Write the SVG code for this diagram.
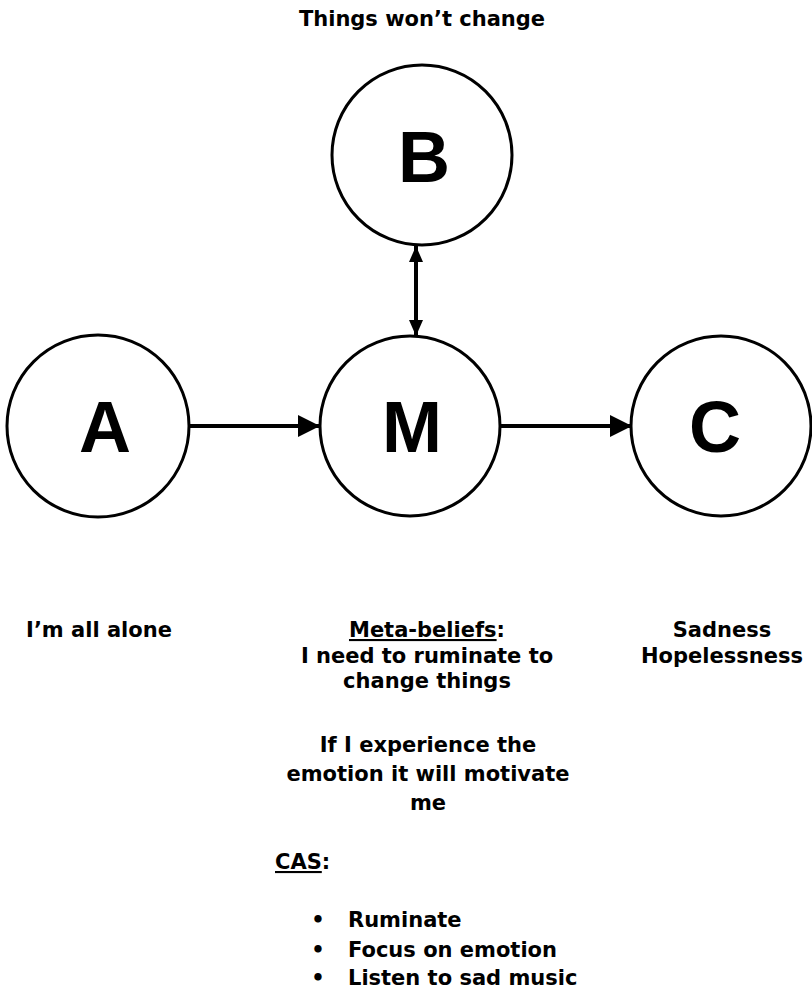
<svg xmlns="http://www.w3.org/2000/svg" width="812" height="989" viewBox="0 0 812 989">
  <style>
    .node { fill: #ffffff; stroke: #000000; stroke-width: 3; }
    .letter { font-family: "Liberation Sans", Arial, sans-serif; font-weight: bold; font-size: 72px; fill: #000000; text-anchor: middle; }
    .label { font-family: "DejaVu Sans", Verdana, sans-serif; font-weight: bold; font-size: 21px; fill: #000000; }
    .mid { text-anchor: middle; }
    .ul { text-decoration: underline; }
    .edge { stroke: #000000; stroke-width: 4; fill: none; }
  </style>
  <defs>
    <marker id="head" markerUnits="userSpaceOnUse" markerWidth="22" markerHeight="22" viewBox="0 0 22 22" refX="22" refY="11" orient="auto">
      <path d="M0,0 L22,11 L0,22 Z" fill="#000000"/>
    </marker>
    <marker id="headSmall" markerUnits="userSpaceOnUse" markerWidth="16" markerHeight="14" viewBox="0 0 16 14" refX="16" refY="7" orient="auto-start-reverse">
      <path d="M0,0 L16,7 L0,14 Z" fill="#000000"/>
    </marker>
  </defs>

  <rect width="812" height="989" fill="#ffffff"/>

  <!-- connectors -->
  <g id="connectors">
    <line class="edge" x1="189" y1="426" x2="320" y2="426" marker-end="url(#head)"/>
    <line class="edge" x1="500" y1="426" x2="632" y2="426" marker-end="url(#head)"/>
    <line class="edge" x1="416" y1="246" x2="416" y2="336" marker-start="url(#headSmall)" marker-end="url(#headSmall)"/>
  </g>

  <!-- B: belief -->
  <g id="node-b">
    <text class="label mid" x="422" y="26" font-size="20">Things won’t change</text>
    <circle class="node" cx="422" cy="155" r="90"/>
    <text class="letter" x="424" y="182">B</text>
  </g>

  <!-- A: activating event -->
  <g id="node-a">
    <circle class="node" cx="98" cy="426" r="91"/>
    <text class="letter" x="105" y="452">A</text>
    <text class="label mid" x="99" y="637">I’m all alone</text>
  </g>

  <!-- M: metacognition -->
  <g id="node-m">
    <circle class="node" cx="410" cy="426" r="90"/>
    <text class="letter" x="412" y="452">M</text>
    <text class="label mid" x="427" y="637"><tspan class="ul">Meta-beliefs</tspan>:</text>
    <text class="label mid" x="427" y="663">I need to ruminate to</text>
    <text class="label mid" x="427" y="688">change things</text>
    <text class="label mid" x="428" y="752">If I experience the</text>
    <text class="label mid" x="428" y="781">emotion it will motivate</text>
    <text class="label mid" x="428" y="810">me</text>
    <text class="label" x="275" y="869"><tspan class="ul">CAS</tspan>:</text>
    <text class="label mid" x="318" y="927">•</text>
    <text class="label" x="348" y="927">Ruminate</text>
    <text class="label mid" x="318" y="957">•</text>
    <text class="label" x="348" y="957">Focus on emotion</text>
    <text class="label mid" x="318" y="985">•</text>
    <text class="label" x="348" y="985">Listen to sad music</text>
  </g>

  <!-- C: consequence -->
  <g id="node-c">
    <circle class="node" cx="721" cy="426" r="90"/>
    <text class="letter" x="715" y="452">C</text>
    <text class="label mid" x="722" y="637">Sadness</text>
    <text class="label mid" x="722" y="663">Hopelessness</text>
  </g>
</svg>
